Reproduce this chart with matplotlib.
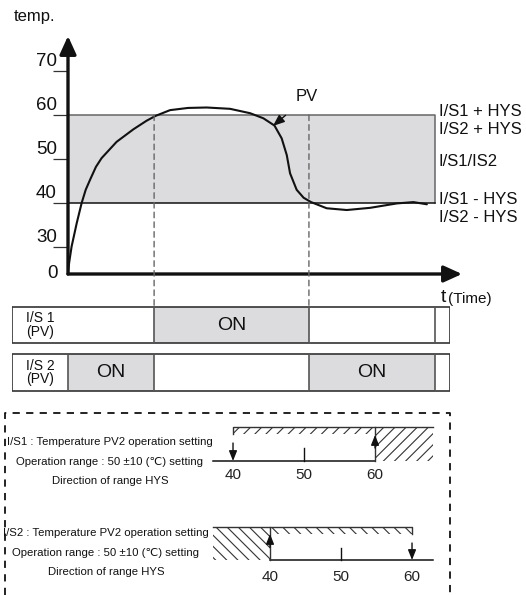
import matplotlib; matplotlib.use("Agg")
import matplotlib.pyplot as plt
from matplotlib.patches import Rectangle, ConnectionPatch
from matplotlib import font_manager

# ---- data ----
pv_t = [0, 0.4, 1.2, 2.9, 4.55, 5.9, 7.3, 9.3, 11.2, 16.2, 21.8, 26.2, 29.2, 34, 40, 46.2, 54, 60.7,
        65.1, 68.8, 71.2, 72.9, 74, 76.2, 78.5, 81, 86.2, 92.9, 100.7, 109.6, 115.1, 119.6]
pv_T = [24, 26.5, 30.1, 35.4, 40, 43, 45.2, 48.2, 50.2, 53.9, 56.75, 58.7, 59.8, 61.1, 61.6, 61.7, 61.4, 60.4,
        59.25, 57.6, 54.7, 50.9, 46.75, 43, 41.2, 40.2, 38.8, 38.4, 38.9, 39.9, 40.2, 39.7]
temp_ticks = [30, 40, 50, 60, 70]
band_lo, band_hi = 40, 60
switch_t = [0, 28.7, 80.3, 122.3]          # band start, ON at 60, OFF at 40, band end
is1_on = [False, True, False]
is2_on = [True, False, True]
right_labels = ["I/S1 + HYS", "I/S2 + HYS", "I/S1/IS2", "I/S1 - HYS", "I/S2 - HYS"]
scale_ticks = [40, 50, 60]

W, H = 526, 595
GREY = "#dcdcde"
INK = "#111111"
plt.rcParams["font.family"] = ["Liberation Sans", "DejaVu Sans"]
plt.rcParams["hatch.linewidth"] = 0.8
names = {f.name for f in font_manager.fontManager.ttflist}
NARROW = ["Liberation Sans Narrow", "DejaVu Sans"] if "Liberation Sans Narrow" in names else ["Liberation Sans", "DejaVu Sans"]
NSIZE = 10 if "Liberation Sans Narrow" in names else 8.2

def box(x0, y0, x1, y1):
    return [x0 / W, 1 - y1 / H, (x1 - x0) / W, (y1 - y0) / H]

fig = plt.figure(figsize=(W / 100, H / 100), dpi=100)

# overlay in pixel coords for free text / frame
ov = fig.add_axes([0, 0, 1, 1]); ov.set_xlim(0, W); ov.set_ylim(H, 0); ov.axis("off")

# ---- temperature chart ----
ax = fig.add_axes(box(68, 36, 462, 274))
ax.set_xlim(0, 131.3); ax.set_ylim(23.86, 77.95)
ax.patch.set_alpha(0)
for s in ax.spines.values(): s.set_visible(False)
ax.set_xticks([])
ax.set_yticks(temp_ticks)
ax.tick_params(axis="y", length=10.8, width=0.9, color="#333", labelleft=False)
ax.add_patch(Rectangle((switch_t[0], band_lo), switch_t[-1] - switch_t[0], band_hi - band_lo,
                       facecolor=GREY, edgecolor="none", zorder=1))
ax.plot([switch_t[0], switch_t[-1], switch_t[-1]], [band_hi, band_hi, band_lo], color="#666", lw=1.1, zorder=2)
ax.plot([switch_t[0], switch_t[-1]], [band_lo, band_lo], color=INK, lw=1.1, zorder=2)
ax.plot(pv_t, pv_T, color=INK, lw=1.5, zorder=4, solid_capstyle="round", solid_joinstyle="round")
arr = dict(arrowstyle="-|>,head_length=0.55,head_width=0.25", lw=2.4, color=INK,
           shrinkA=0, shrinkB=0, mutation_scale=20)
ax.annotate("", xy=(0, 1.0), xycoords="axes fraction", xytext=(0, 0), arrowprops=arr, zorder=5)
ax.annotate("", xy=(1.0, 0), xycoords="axes fraction", xytext=(0, 0), arrowprops=arr, zorder=5)
for v in temp_ticks:
    ax.annotate(str(v), xy=(0, v), xycoords=("axes fraction", "data"), xytext=(-8, 7),
                textcoords="offset points", ha="right", va="center", fontsize=13.5, color=INK)
ax.annotate("0", xy=(0, 23.86), xycoords=("axes fraction", "data"), xytext=(-7.5, 0),
            textcoords="offset points", ha="right", va="center", fontsize=13.5, color=INK)
ax.annotate("PV", xy=(68.3, 57.5), xytext=(79.7, 64.1), fontsize=12, ha="center", va="center",
            color=INK, arrowprops=dict(arrowstyle="-|>,head_length=0.5,head_width=0.2", lw=1,
                                       color=INK, shrinkA=9, shrinkB=0, mutation_scale=14))

ov.text(14, 17, "temp.", fontsize=12, ha="left", va="center", color=INK)
ov.text(441, 298, "t", fontsize=14, ha="left", va="center", color=INK)
ov.text(448, 299, "(Time)", fontsize=11, ha="left", va="center", color=INK)
for lab, y in zip(right_labels, [112, 129, 161, 199, 218]):
    ov.text(439, y, lab, fontsize=12, ha="left", va="center", color=INK)

# ---- I/S output rows ----
axb = fig.add_axes(box(12, 300, 450, 395))
axb.set_xlim(-18.67, 127.33); axb.set_ylim(395, 300); axb.axis("off")
x0, x1 = axb.get_xlim()
rows = [(307, 343, is1_on, "I/S 1\n(PV)", False), (354, 391, is2_on, "I/S 2\n(PV)", True)]
for ya, yb, states, lab, div0 in rows:
    for a, b, on in zip(switch_t[:-1], switch_t[1:], states):
        if on:
            axb.add_patch(Rectangle((a, ya), b - a, yb - ya, facecolor=GREY, edgecolor="none"))
            axb.text((a + b) / 2, (ya + yb) / 2, "ON", fontsize=14, ha="center", va="center", color=INK)
    axb.add_patch(Rectangle((x0, ya), x1 - x0, yb - ya, facecolor="none", edgecolor="#333", lw=1.2))
    divs = switch_t if div0 else switch_t[1:]
    for d in divs:
        axb.plot([d, d], [ya, yb], color="#555", lw=1.2)
    axb.text(x0 + 4.6, (ya + yb) / 2, lab, fontsize=10, ha="left", va="center",
             linespacing=0.95, family=NARROW, color=INK)

for t in switch_t[1:3]:
    fig.add_artist(ConnectionPatch(xyA=(t, band_hi), coordsA=ax.transData, xyB=(t, 307),
                                   coordsB=axb.transData, ls=(0, (4, 3)), color="#666", lw=1.0))

# ---- dashed explanation frame ----
ov.plot([5, 5, 450, 450], [H, 413, 413, H], color=INK, lw=1.3, ls=(0, (4, 3.5)))
for y0, xc, head in [(442, 110, "I/S1 : Temperature PV2 operation setting"),
                     (533, 106, "I/S2 : Temperature PV2 operation setting")]:
    ov.text(xc, y0, head, fontsize=NSIZE, family=NARROW, ha="center", va="center", color=INK)
    ov.text(xc, y0 + 20, "Operation range : 50 \u00b110 (\u2103) setting", fontsize=NSIZE,
            family=NARROW, ha="center", va="center", color=INK)
    ov.text(xc, y0 + 39, "Direction of range HYS", fontsize=NSIZE, family=NARROW,
            ha="center", va="center", color=INK)

HC = "#333333"
small_arr = dict(arrowstyle="-|>,head_length=0.5,head_width=0.2", lw=1, color=INK,
                 shrinkA=0, shrinkB=0, mutation_scale=12)

# scale 1: I/S1 (ON above upper limit, OFF below lower)
s1 = fig.add_axes(box(200, 420, 440, 485)); s1.set_xlim(35.35, 69.15); s1.set_ylim(485, 420); s1.axis("off")
lo, mid, hi = scale_ticks
s1.plot([37.2, hi], [461, 461], color=INK, lw=1.1)
s1.plot([mid, mid], [448, 461], color=INK, lw=1)
s1.annotate("", xy=(lo, 461), xytext=(lo, 443), arrowprops=small_arr)
s1.add_patch(Rectangle((lo, 427), hi - lo, 7, facecolor="none", edgecolor=HC, lw=0, hatch="///"))
s1.plot([lo, lo, hi], [434, 427, 427], color=HC, lw=1)
s1.add_patch(Rectangle((hi, 427), 68.2 - hi, 34, facecolor="none", edgecolor=HC, lw=0, hatch="///"))
s1.plot([hi, hi, 68.2], [461, 427, 427], color=HC, lw=1)
s1.annotate("", xy=(hi, 435), xytext=(hi, 448), arrowprops=small_arr)
for v in scale_ticks:
    s1.text(v, 475, str(v), fontsize=11, ha="center", va="center", color="#222")

# scale 2: I/S2 (ON below lower limit, OFF above upper)
s2 = fig.add_axes(box(200, 520, 440, 590)); s2.set_xlim(30.14, 63.94); s2.set_ylim(590, 520); s2.axis("off")
s2.plot([lo, 63.0], [560, 560], color=INK, lw=1.1)
s2.plot([mid, mid], [548, 560], color=INK, lw=1)
s2.add_patch(Rectangle((32.0, 527), lo - 32.0, 33, facecolor="none", edgecolor=HC, lw=0, hatch="\\\\\\"))
s2.plot([32.0, lo, lo], [527, 527, 560], color=HC, lw=1)
s2.annotate("", xy=(lo, 534), xytext=(lo, 547), arrowprops=small_arr)
s2.add_patch(Rectangle((lo, 527), hi - lo, 7, facecolor="none", edgecolor=HC, lw=0, hatch="\\\\\\"))
s2.plot([lo, hi, hi], [527, 527, 534], color=HC, lw=1)
s2.annotate("", xy=(hi, 560), xytext=(hi, 543), arrowprops=small_arr)
for v in scale_ticks:
    s2.text(v, 577, str(v), fontsize=11, ha="center", va="center", color="#222")

fig.savefig("out.png", dpi=100)
